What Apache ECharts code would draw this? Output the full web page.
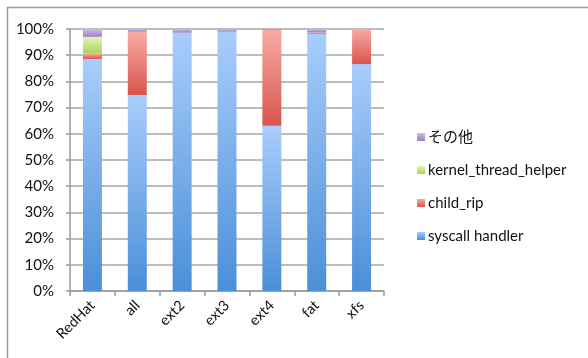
<!DOCTYPE html>
<html><head><meta charset="utf-8">
<script src="https://cdn.jsdelivr.net/npm/echarts@6/dist/echarts.min.js"></script>
<style>html,body{margin:0;padding:0;background:#fff}#c{width:588px;height:358px}</style>
</head><body><div id="c"></div>
<script>
const categories = ['RedHat','all','ext2','ext3','ext4','fat','xfs'];
const syscallHandler = [88.5, 74.8, 98.6, 99.0, 63.1, 98.2, 86.6];
const childRip = [2.2, 24.2, 0, 0, 36.6, 0.5, 13.4];
const kernelThreadHelper = [6.3, 0, 0, 0, 0, 0, 0];
const others = [3.0, 1.0, 1.4, 1.0, 0.3, 1.3, 0];
const yTicks = [0,10,20,30,40,50,60,70,80,90,100];

const FONT = 'Lato, "Noto Sans CJK JP", sans-serif';
function grad(top, bottom){
  return new echarts.graphic.LinearGradient(0,0,0,1,[{offset:0,color:top},{offset:1,color:bottom}]);
}
const chart = echarts.init(document.getElementById('c'));
chart.setOption({
  animation:false,
  backgroundColor:'#fff',
  graphic:[
    {type:'line',shape:{x1:7,y1:7.5,x2:588,y2:7.5},style:{stroke:'#9a9a9a',lineWidth:1.5},silent:true},
    {type:'line',shape:{x1:7.5,y1:7,x2:7.5,y2:358},style:{stroke:'#9a9a9a',lineWidth:1.5},silent:true}
  ],
  grid:{left:70,right:204,top:29,bottom:67},
  legend:{
    orient:'vertical', left:412, top:123,
    data:['その他','kernel_thread_helper','child_rip','syscall handler'],
    itemWidth:8, itemHeight:8, itemGap:15,
    icon:'rect',
    textStyle:{fontFamily:FONT,fontSize:15,color:'#111',lineHeight:18,padding:[0,0,0,-2]}
  },
  xAxis:{
    type:'category', data:categories,
    axisLine:{lineStyle:{color:'#999',width:1.5}},
    axisTick:{show:true,length:5,lineStyle:{color:'#999',width:1.5},alignWithLabel:false},
    axisLabel:{rotate:45,fontFamily:FONT,fontSize:14.5,color:'#111',margin:12,interval:0}
  },
  yAxis:{
    type:'value', min:0, max:100, interval:10,
    axisLine:{show:true,lineStyle:{color:'#999',width:1.5}},
    axisTick:{show:true,length:4,lineStyle:{color:'#999',width:1.5}},
    splitLine:{lineStyle:{color:'#a6a6a6',width:1.5}},
    axisLabel:{fontFamily:FONT,fontSize:15,color:'#111',margin:16,
      formatter:function(v){return yTicks.indexOf(v)>=0? v+'%':'';}}
  },
  series:[
    {name:'syscall handler',type:'bar',stack:'s',barWidth:19,data:syscallHandler,
      itemStyle:{color:grad('#a9cdfb','#4b8fd8')}},
    {name:'child_rip',type:'bar',stack:'s',barWidth:19,data:childRip,
      itemStyle:{color:grad('#f9aaa5','#d8554d')}},
    {name:'kernel_thread_helper',type:'bar',stack:'s',barWidth:19,data:kernelThreadHelper,
      itemStyle:{color:grad('#e3f5b8','#a9d25c')}},
    {name:'その他',type:'bar',stack:'s',barWidth:19,data:others,
      itemStyle:{color:grad('#cdbde9','#9b7fc6')}}
  ]
});
</script></body></html>
